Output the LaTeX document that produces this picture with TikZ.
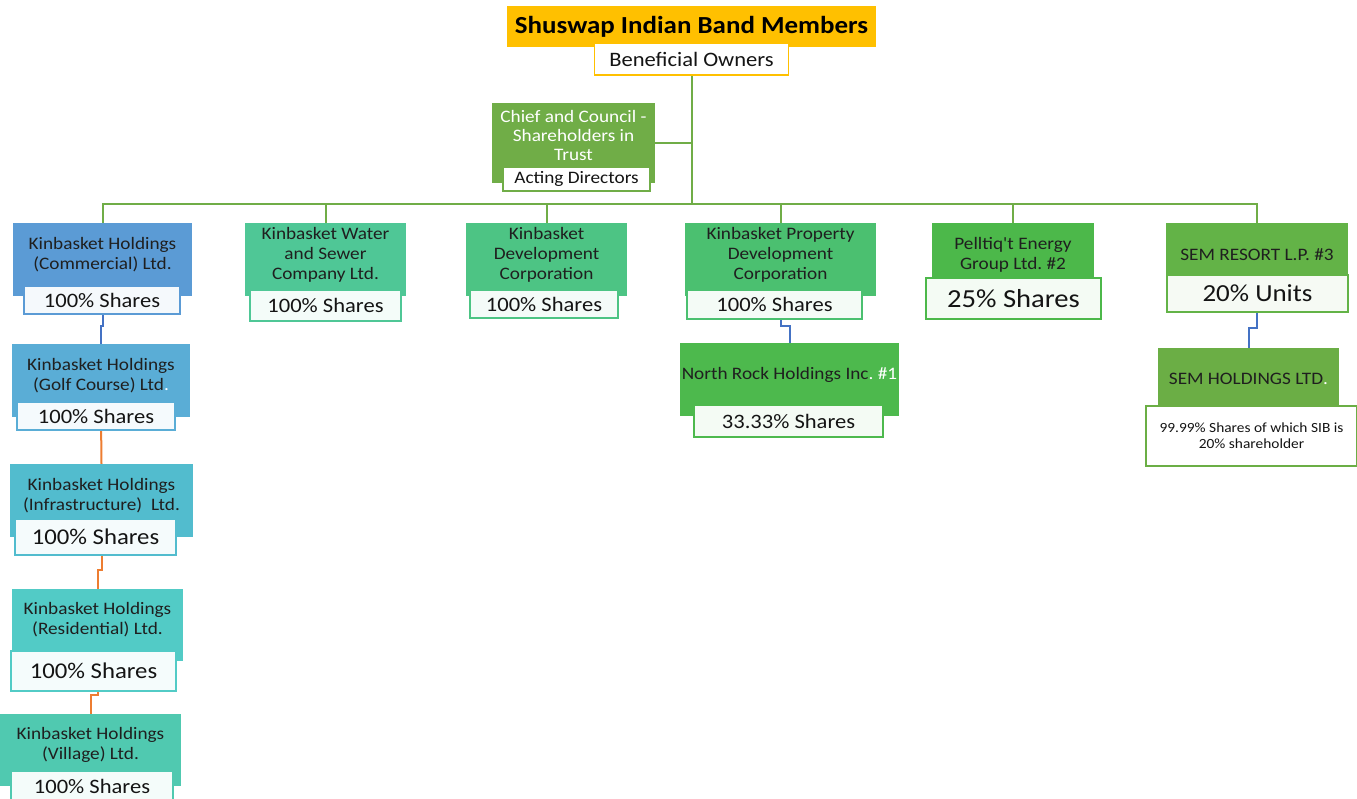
\documentclass[tikz,border=0pt]{standalone}
\usepackage{fontspec}
\setmainfont{Carlito}[FakeStretch=1.1,Ligatures=TeXOff]
\usetikzlibrary{positioning,backgrounds,calc}
\frenchspacing

\definecolor{gold}{HTML}{FFC000}
\definecolor{cLine}{HTML}{70AD47}
\definecolor{cBlue}{HTML}{4472C4}
\definecolor{cOrange}{HTML}{ED7D31}
\definecolor{cChief}{HTML}{70AD47}
\definecolor{cCom}{HTML}{5B9BD5}
\definecolor{cGolf}{HTML}{5AADD6}
\definecolor{cInfra}{HTML}{52BCCE}
\definecolor{cResid}{HTML}{52CBC6}
\definecolor{cVill}{HTML}{50C9B0}
\definecolor{cWater}{HTML}{4FC796}
\definecolor{cDev}{HTML}{4DC484}
\definecolor{cProp}{HTML}{4BC070}
\definecolor{cPell}{HTML}{4CB84A}
\definecolor{cSemR}{HTML}{63B347}
\definecolor{cRock}{HTML}{4DB94D}
\definecolor{cSemH}{HTML}{6BAE45}

\begin{document}
\begin{tikzpicture}[x=1pt, y=-1pt,
  unit/.style={fill=#1, draw=none, minimum height=73, inner sep=0pt},
  utext/.style={align=center, text=black!88, inner sep=0pt, font=\fontsize{17.5}{20}\selectfont},
  share/.style={draw=#1, line width=1.8, fill=#1!6, inner sep=0pt, text=black!92, font=\fontsize{20.5}{24}\selectfont},
  link/.style={draw=#1, line width=2}
]
\useasboundingbox (0,0) rectangle (1357,799);

% --------
\node (top) [fill=gold, minimum width=369, minimum height=41, inner sep=0pt, font=\bfseries\fontsize{24.5}{28}\selectfont] at (691.5,26.5) {Shuswap Indian Band Members};
\node (ben) [share=gold, fill=white, minimum width=194, minimum height=32] at (691.5,59) {Beneficial Owners};

\node (chief) [unit=cChief, minimum width=163, minimum height=80] at (573.5,143) {};
\node (chief-t) [utext, text=white, font=\fontsize{17.5}{19}\selectfont] at ([yshift=8]chief.center) {Chief and Council -\\Shareholders in\\Trust};
\node (acting) [share=cChief, fill=white, minimum width=147, minimum height=24, font=\fontsize{17.5}{20}\selectfont] at (576.5,179) {Acting Directors};

% --------
\node (comm) [unit=cCom, minimum width=179] at (102.5,259.5) {};
\node (comm-t) [utext] at ([yshift=5]comm.center) {Kinbasket Holdings\\(Commercial) Ltd.};
\node (comm-s) [share=cCom, minimum width=156, minimum height=28] at (102,300) {100\% Shares};

\node (water) [unit=cWater, minimum width=161] at (325.5,259.5) {};
\node (water-t) [utext] at ([yshift=5]water.center) {Kinbasket Water\\and Sewer\\Company Ltd.};
\node (water-s) [share=cWater, minimum width=151, minimum height=31] at (325.5,305.5) {100\% Shares};

\node (dev) [unit=cDev, minimum width=161] at (546.5,259.5) {};
\node (dev-t) [utext] at ([yshift=5]dev.center) {Kinbasket\\Development\\Corporation};
\node (dev-s) [share=cDev, minimum width=148, minimum height=28] at (544,304) {100\% Shares};

\node (prop) [unit=cProp, minimum width=191] at (780.5,259.5) {};
\node (prop-t) [utext] at ([yshift=5]prop.center) {Kinbasket Property\\Development\\Corporation};
\node (prop-s) [share=cProp, minimum width=175, minimum height=29] at (774.5,304.5) {100\% Shares};

\node (pell) [unit=cPell, minimum width=162] at (1013,259.5) {};
\node (pell-t) [utext] at ([yshift=5]pell.center) {Pelltiq't Energy\\Group Ltd. \#2};
\node (pell-s) [share=cPell, minimum width=175, minimum height=41, font=\fontsize{26}{30}\selectfont] at (1013.5,298.5) {25\% Shares};

\node (semr) [unit=cSemR, minimum width=182] at (1257,259.5) {};
\node (semr-t) [utext] at ([yshift=5]semr.center) {SEM RESORT L.P. \#3};
\node (semr-s) [share=cSemR, minimum width=181, minimum height=37, font=\fontsize{24.5}{28}\selectfont] at (1257.5,293.5) {20\% Units};

% --------
\node (golf) [unit=cGolf, minimum width=178] at (101,380.5) {};
\node (golf-t) [utext] at ([yshift=5]golf.center) {Kinbasket Holdings\\(Golf Course) Ltd\textcolor{white}{.}};
\node (golf-s) [share=cGolf, minimum width=158, minimum height=28] at (96,416) {100\% Shares};

\node (infra) [unit=cInfra, minimum width=183] at (101.5,500.5) {};
\node (infra-t) [utext] at ([yshift=5]infra.center) {Kinbasket Holdings\\(Infrastructure)~ Ltd.};
\node (infra-s) [share=cInfra, minimum width=161, minimum height=36, font=\fontsize{22.5}{26}\selectfont] at (95.5,537) {100\% Shares};

\node (resid) [unit=cResid, minimum width=171, minimum height=72] at (97.5,625) {};
\node (resid-t) [utext] at ([yshift=5]resid.center) {Kinbasket Holdings\\(Residential) Ltd.};
\node (resid-s) [share=cResid, minimum width=165, minimum height=40, font=\fontsize{22.5}{26}\selectfont] at (93.5,671) {100\% Shares};

\node (vill) [unit=cVill, minimum width=181, minimum height=72] at (90.5,750) {};
\node (vill-t) [utext] at ([yshift=5]vill.center) {Kinbasket Holdings\\(Village) Ltd.};
\node (vill-s) [share=cVill, minimum width=162, minimum height=30] at (92,786) {100\% Shares};

% --------
\node (rock) [unit=cRock, minimum width=219] at (789.5,379.5) {};
\node (rock-t) [utext] at ([yshift=5]rock.center) {North Rock Holdings Inc\textcolor{white}{. \#1}};
\node (rock-s) [share=cRock, minimum width=189, minimum height=32] at (788.5,421) {33.33\% Shares};

\node (semh) [unit=cSemH, minimum width=181, minimum height=72] at (1248.5,384) {};
\node (semh-t) [utext] at ([yshift=5]semh.center) {SEM HOLDINGS LTD\textcolor{white}{.}};
\node (semh-s) [share=cSemH, fill=white, minimum width=211, minimum height=60, align=center, font=\fontsize{14}{16}\selectfont] at (1251.5,436) {99.99\% Shares of which SIB is\\20\% shareholder};

% -------- connectors
\begin{scope}[on background layer]
\coordinate (bus) at (691.5,204);
\draw [link=cLine] (ben.south) -- (bus);
\draw [link=cLine] (chief.east) -- (chief.east -| bus);
\draw [link=cLine] (comm.north) |- (bus) -| (semr.north);
\foreach \n in {water,dev,prop,pell}
  \draw [link=cLine] (\n.north) -- (\n.north |- bus);

\draw [link=cBlue] (comm.south) -- ++(0,30) -| (golf.north);
\draw [link=cOrange] (golf.south) -- (infra.north);
\draw [link=cOrange] (infra.south) -- ++(0,33) -| (resid.north);
\draw [link=cOrange] (resid.south) -- ++(0,34) -| (vill.north);

\draw [link=cBlue] (prop.south) -- ++(0,30) -| (rock.north);
\draw [link=cBlue] (semr.south) -- ++(0,32) -| (semh.north);
\end{scope}

\end{tikzpicture}
\end{document}
